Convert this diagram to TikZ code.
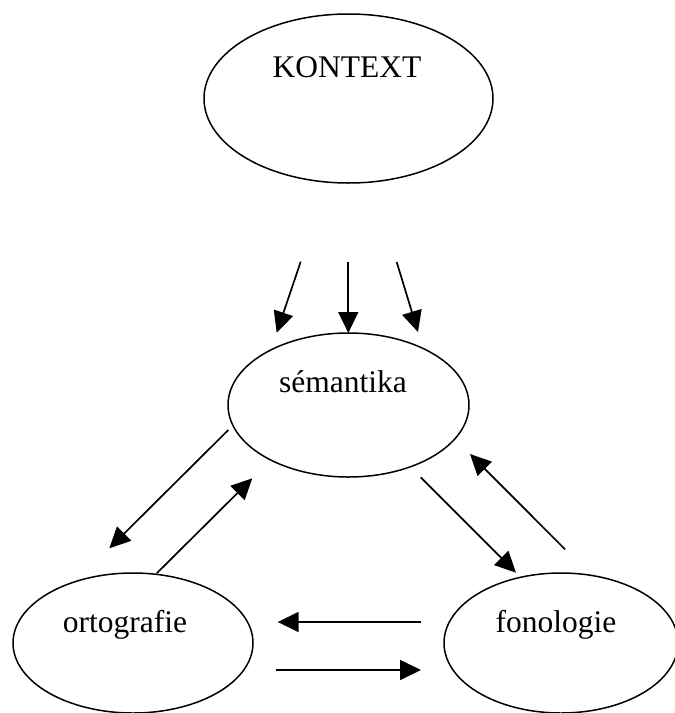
\documentclass[tikz,border=0pt]{standalone}
\usepackage{fontspec}
\setmainfont{Liberation Serif}
\usetikzlibrary{shapes.geometric,arrows.meta}
\begin{document}
\begin{tikzpicture}[x=1pt,y=-1pt,
  oval/.style={draw,ellipse,line width=1.5pt,inner sep=0pt},
  lbl/.style={anchor=base,inner sep=0pt,font=\fontsize{31.5}{36}\selectfont},
  arr/.style={line width=1.7pt,-{Triangle[length=21pt,width=20pt]}}]
\useasboundingbox (0,0) rectangle (675,713);
% ellipses
\node[oval,minimum width=289pt,minimum height=169pt] (kontext) at (348.5,98.5) {};
\node[oval,minimum width=241pt,minimum height=144pt] (sem) at (348.5,405) {};
\node[oval,minimum width=240pt,minimum height=140pt] (ort) at (133,643) {};
\node[oval,minimum width=234pt,minimum height=140pt] (fon) at (561,643) {};
% labels
\node[lbl] (tk) at (347,77) {KONTEXT};
\node[lbl] (ts) at (343,392) {sémantika};
\node[lbl] (to) at (125,632) {ortografie};
\node[lbl] (tf) at (556,632) {fonologie};
% arrow end points
\coordinate (k1a) at (300.7,261.7); \coordinate (k1b) at (276.7,332.7);
\coordinate (k2a) at (348.3,262);   \coordinate (k2b) at (348.3,333);
\coordinate (k3a) at (396.7,262);   \coordinate (k3b) at (418,332);
\coordinate (soa) at (228.3,430);   \coordinate (sob) at (109.3,548.3);
\coordinate (osa) at (156.7,573.3); \coordinate (osb) at (252.3,478.3);
\coordinate (sfa) at (420.7,477.3); \coordinate (sfb) at (516,572.7);
\coordinate (fsa) at (565,549.3);   \coordinate (fsb) at (470,454);
\coordinate (foa) at (421,622);     \coordinate (fob) at (277.7,622);
\coordinate (ofa) at (275.5,670);   \coordinate (ofb) at (421,670);
% connectors
\draw[arr] (k1a) -- (k1b);
\draw[arr] (k2a) -- (k2b);
\draw[arr] (k3a) -- (k3b);
\draw[arr] (soa) -- (sob);
\draw[arr] (osa) -- (osb);
\draw[arr] (sfa) -- (sfb);
\draw[arr] (fsa) -- (fsb);
\draw[arr] (foa) -- (fob);
\draw[arr] (ofa) -- (ofb);
\end{tikzpicture}
\end{document}
